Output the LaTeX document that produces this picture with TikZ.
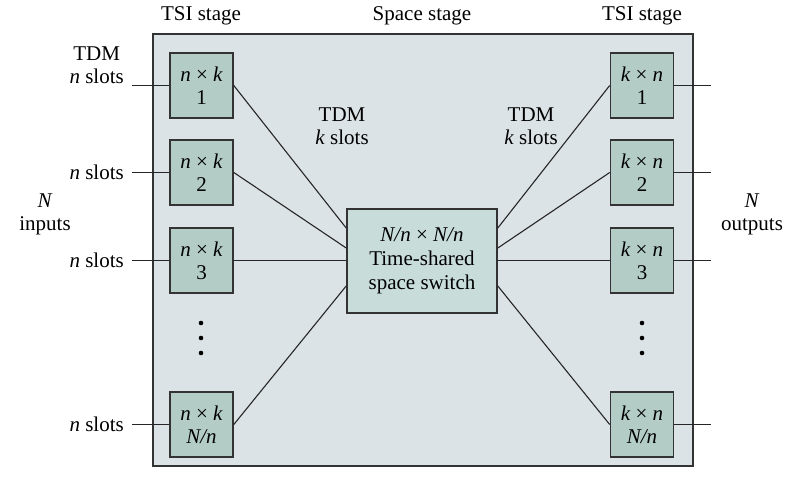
\documentclass[tikz,border=0pt]{standalone}
\usepackage{fontspec}
\setmainfont{Liberation Serif}
\newcommand{\iv}[1]{\textit{#1}}
\begin{document}
\begin{tikzpicture}[x=1pt,y=-1pt,
  lbl/.style={font=\fontsize{21}{23}\selectfont, inner sep=0pt, align=center},
  tsibox/.style={draw=black!80, line width=1.6pt, fill={rgb,255:red,179;green,204;blue,198}, minimum width=63pt, minimum height=65pt, inner sep=0pt, align=center, font=\fontsize{21}{23}\selectfont},
  wire/.style={line width=1.1pt, black!85}]
\useasboundingbox (0,0) rectangle (787,477);
% outer stage box
\node[draw=black!80, line width=1.6pt, fill={rgb,255:red,220;green,227;blue,230}, minimum width=540pt, minimum height=432pt, inner sep=0pt] (frame) at (423,250) {};
% headings
\node[lbl] (h1) at (201,16) {TSI stage};
\node[lbl] (h2) at (422,16) {Space stage};
\node[lbl] (h3) at (642,16) {TSI stage};
% left TSI boxes
\node[tsibox] (L1) at (201.5,85.5) {\iv{n} × \iv{k}\\1};
\node[tsibox] (L2) at (201.5,172.5) {\iv{n} × \iv{k}\\2};
\node[tsibox] (L3) at (201.5,260.5) {\iv{n} × \iv{k}\\3};
\node[tsibox] (L4) at (201.5,424.5) {\iv{n} × \iv{k}\\\iv{N/n}};
% right TSI boxes
\node[tsibox] (R1) at (642,85.5) {\iv{k} × \iv{n}\\1};
\node[tsibox] (R2) at (642,172.5) {\iv{k} × \iv{n}\\2};
\node[tsibox] (R3) at (642,260.5) {\iv{k} × \iv{n}\\3};
\node[tsibox] (R4) at (642,424.5) {\iv{k} × \iv{n}\\\iv{N/n}};
% centre switch
\node[draw=black!80, line width=1.6pt, fill={rgb,255:red,200;green,220;blue,218}, minimum width=150pt, minimum height=104pt, inner sep=0pt, align=center, font=\fontsize{21}{24}\selectfont] (S) at (422,261) {\iv{N/n} × \iv{N/n}\\Time-shared\\space switch};
% dots
\foreach \y in {323,338,353} {
  \fill (201,\y) circle (2.3pt);
  \fill (642,\y) circle (2.3pt);
}
% input labels and wires
\node[lbl, anchor=east] (i1) at (124,65) {TDM\\\iv{n} slots};
\coordinate (a1) at (132,85.5);
\node[lbl, anchor=east] (i2) at (124,172.5) {\iv{n} slots};
\coordinate (a2) at (132,172.5);
\node[lbl, anchor=east] (i3) at (124,260.5) {\iv{n} slots};
\coordinate (a3) at (132,260.5);
\node[lbl, anchor=east] (i4) at (124,424.5) {\iv{n} slots};
\coordinate (a4) at (132,424.5);
\draw[wire] (a1) -- (L1.west);
\draw[wire] (a2) -- (L2.west);
\draw[wire] (a3) -- (L3.west);
\draw[wire] (a4) -- (L4.west);
% outputs
\coordinate (b1) at (711,85.5);
\coordinate (b2) at (711,172.5);
\coordinate (b3) at (711,260.5);
\coordinate (b4) at (711,424.5);
\draw[wire] (R1.east) -- (b1);
\draw[wire] (R2.east) -- (b2);
\draw[wire] (R3.east) -- (b3);
\draw[wire] (R4.east) -- (b4);
% side labels
\node[lbl] (inN) at (45,214) {\iv{N}\\inputs};
\node[lbl] (outN) at (752,214) {\iv{N}\\outputs};
% TDM k slots labels
\node[lbl] (k1) at (342,126) {TDM\\\iv{k} slots};
\node[lbl] (k2) at (531,126) {TDM\\\iv{k} slots};
% inner connections
\draw[wire] (L1.east) -- ([yshift=33pt]S.west);
\draw[wire] (L2.east) -- ([yshift=13pt]S.west);
\draw[wire] (L3.east) -- (S.west |- L3.east);
\draw[wire] (L4.east) -- ([yshift=-25pt]S.west);
\draw[wire] (R1.west) -- ([yshift=33pt]S.east);
\draw[wire] (R2.west) -- ([yshift=13pt]S.east);
\draw[wire] (R3.west) -- (S.east |- R3.west);
\draw[wire] (R4.west) -- ([yshift=-25pt]S.east);
\end{tikzpicture}
\end{document}
